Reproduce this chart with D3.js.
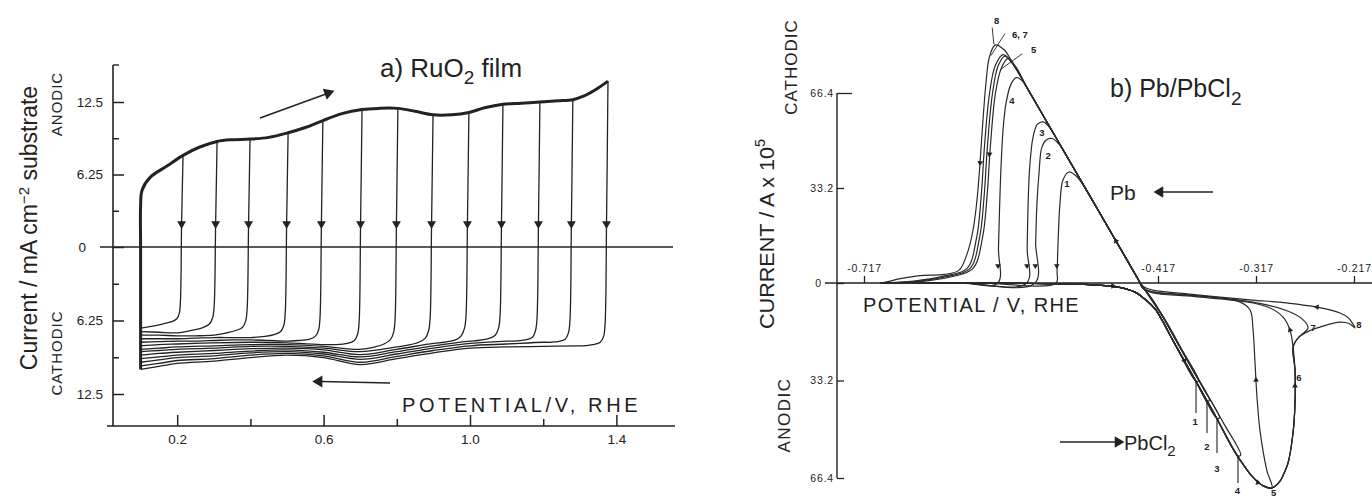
<!DOCTYPE html>
<html>
<head>
<meta charset="utf-8">
<script src="https://cdn.jsdelivr.net/npm/d3@7"></script>
<style>
  body { margin: 0; background: #fff; }
  text { font-family: "Liberation Sans", Arial, sans-serif; fill: #222; }
</style>
</head>
<body>
<script>
// ---------- data: panel a) RuO2 film ----------
var xTicksA = [0.2, 0.6, 1.0, 1.4];
var xMinorA = [0.4, 0.8, 1.2];
var yTicksA = [12.5, 6.25, 0, -6.25, -12.5];
var yMinorA = [9.375, 3.125, -3.125, -9.375];

// switching potentials of the 13 sweeps
var reversalE = [0.216, 0.309, 0.399, 0.503, 0.598, 0.705, 0.803, 0.899, 0.997, 1.090, 1.191, 1.281, 1.377];

// outer anodic sweep (potential V, current mA cm-2, anodic positive)
var anodicSweep = [[0.1,-10.4],[0.1,-5],[0.1,0],[0.1,3.5],[0.104,4.9],[0.126,6.0],[0.173,7.0],[0.216,7.9],
  [0.26,8.6],[0.309,9.1],[0.35,9.25],[0.399,9.3],[0.45,9.45],[0.503,9.85],[0.55,10.3],[0.598,10.9],
  [0.65,11.5],[0.705,11.85],[0.75,11.95],[0.803,11.95],[0.85,11.7],[0.899,11.4],[0.95,11.4],[0.997,11.6],
  [1.04,12.0],[1.09,12.3],[1.14,12.4],[1.191,12.5],[1.24,12.6],[1.281,12.7],[1.31,13.0],[1.345,13.6],[1.377,14.3]];

// cathodic return sweeps, one per switching potential
var cathodicSweeps = [
  [[0.216,7.9],[0.212,2],[0.209,-4.5],[0.206,-5.6],[0.199,-6.1],[0.185,-6.35],[0.16,-6.55],[0.13,-6.75],[0.1,-6.9]],
  [[0.309,9.1],[0.305,2],[0.301,-5],[0.297,-6.0],[0.288,-6.55],[0.27,-6.85],[0.245,-7.05],[0.2,-7.3],[0.15,-7.25],[0.1,-7.2]],
  [[0.399,9.3],[0.395,2],[0.391,-5.3],[0.387,-6.3],[0.378,-6.85],[0.36,-7.1],[0.335,-7.3],[0.3,-7.5],[0.25,-7.55],[0.2,-7.55],[0.15,-7.5],[0.1,-7.5]],
  [[0.503,9.85],[0.499,2],[0.495,-5.7],[0.491,-6.7],[0.482,-7.2],[0.465,-7.45],[0.44,-7.6],[0.4,-7.7],[0.35,-7.7],[0.3,-7.7],[0.25,-7.75],[0.2,-7.8],[0.15,-7.8],[0.1,-7.8]],
  [[0.598,10.9],[0.594,2],[0.590,-6.1],[0.586,-7.1],[0.577,-7.6],[0.56,-7.85],[0.53,-7.95],[0.5,-8.0],[0.45,-7.95],[0.4,-7.9],[0.35,-7.9],[0.3,-7.95],[0.25,-8.0],[0.2,-8.0],[0.15,-8.05],[0.1,-8.1]],
  [[0.705,11.85],[0.701,2],[0.697,-6.4],[0.693,-7.4],[0.684,-7.95],[0.665,-8.2],[0.63,-8.3],[0.6,-8.3],[0.5,-8.15],[0.4,-8.1],[0.3,-8.15],[0.2,-8.25],[0.15,-8.3],[0.1,-8.4]],
  [[0.803,11.95],[0.799,2],[0.795,-6.3],[0.791,-7.3],[0.782,-7.9],[0.765,-8.25],[0.74,-8.5],[0.7,-8.7],[0.6,-8.45],[0.5,-8.3],[0.4,-8.3],[0.3,-8.4],[0.2,-8.5],[0.15,-8.6],[0.1,-8.7]],
  [[0.899,11.4],[0.895,2],[0.891,-6.1],[0.887,-7.1],[0.878,-7.75],[0.86,-8.1],[0.83,-8.35],[0.8,-8.5],[0.7,-8.9],[0.6,-8.6],[0.5,-8.45],[0.4,-8.45],[0.3,-8.6],[0.2,-8.7],[0.15,-8.8],[0.1,-8.9]],
  [[0.997,11.6],[0.993,2],[0.989,-5.9],[0.985,-6.9],[0.976,-7.55],[0.96,-7.9],[0.93,-8.1],[0.9,-8.2],[0.8,-8.7],[0.7,-9.15],[0.6,-8.75],[0.5,-8.6],[0.4,-8.65],[0.3,-8.8],[0.2,-8.95],[0.15,-9.05],[0.1,-9.2]],
  [[1.09,12.3],[1.086,2],[1.082,-5.9],[1.078,-6.9],[1.069,-7.5],[1.05,-7.8],[1.02,-7.95],[1.0,-8.0],[0.9,-8.4],[0.8,-8.9],[0.7,-9.35],[0.6,-8.95],[0.5,-8.75],[0.4,-8.85],[0.3,-9.05],[0.2,-9.2],[0.15,-9.35],[0.1,-9.5]],
  [[1.191,12.5],[1.187,2],[1.183,-6.1],[1.179,-7.1],[1.17,-7.7],[1.15,-7.9],[1.12,-8.0],[1.1,-8.0],[1.0,-8.2],[0.9,-8.6],[0.8,-9.1],[0.7,-9.55],[0.6,-9.1],[0.5,-8.9],[0.4,-9.0],[0.3,-9.25],[0.2,-9.4],[0.15,-9.6],[0.1,-9.8]],
  [[1.281,12.7],[1.277,2],[1.273,-6.3],[1.269,-7.3],[1.26,-7.85],[1.24,-8.05],[1.22,-8.1],[1.2,-8.1],[1.1,-8.25],[1.0,-8.4],[0.9,-8.8],[0.8,-9.3],[0.7,-9.8],[0.6,-9.25],[0.5,-9.05],[0.4,-9.2],[0.3,-9.5],[0.2,-9.65],[0.15,-9.9],[0.1,-10.1]],
  [[1.377,14.3],[1.373,2],[1.369,-6.6],[1.365,-7.6],[1.356,-8.1],[1.335,-8.3],[1.31,-8.4],[1.3,-8.4],[1.2,-8.45],[1.1,-8.5],[1.0,-8.6],[0.9,-9.0],[0.8,-9.5],[0.7,-10.0],[0.6,-9.4],[0.5,-9.2],[0.4,-9.4],[0.3,-9.7],[0.2,-9.9],[0.15,-10.15],[0.1,-10.4]]
];

// ---------- data: panel b) Pb/PbCl2 ----------
var xTicksB = [-0.717, -0.417, -0.317, -0.217];
var xTickLabelsB = ["-0.717", "-0.417", "-0.317", "-0.217"];
var yTicksB = [66.4, 33.2, 0, -33.2, -66.4];

// cycles 1-8 (potential V, current A x 1e5, cathodic positive)
var cycles = [
  [[-0.70,0],[-0.62,0],[-0.53,-0.2],[-0.48,-0.7],[-0.455,-1.6],[-0.44,-3.2],[-0.43,-5.6],[-0.42,-8.85],[-0.40,-20.65],[-0.3782,-33.5],
   [-0.3755,-33.3],[-0.396,-21],[-0.416,-9.2],[-0.435,0],[-0.45,8.85],[-0.47,20.65],[-0.49,32.45],[-0.500,37.2],[-0.508,38.8],
   [-0.514,36],[-0.517,28],[-0.519,14],[-0.520,4],[-0.521,0],[-0.60,0],[-0.70,0]],
  [[-0.70,0],[-0.62,0],[-0.53,-0.2],[-0.48,-0.7],[-0.455,-1.6],[-0.44,-3.2],[-0.43,-5.6],[-0.42,-8.85],[-0.40,-20.65],[-0.38,-32.45],[-0.367,-40.1],
   [-0.3645,-39.9],[-0.381,-30],[-0.401,-18.2],[-0.421,-6.4],[-0.435,0],[-0.45,8.85],[-0.47,20.65],[-0.49,32.45],[-0.51,44.25],[-0.518,48.5],
   [-0.525,50.5],[-0.531,50.0],[-0.5355,47.5],[-0.5385,38],[-0.5405,28],[-0.5418,14],[-0.5425,0],[-0.62,0],[-0.70,0]],
  [[-0.70,0],[-0.62,0],[-0.53,-0.2],[-0.48,-0.7],[-0.455,-1.6],[-0.44,-3.2],[-0.43,-5.6],[-0.42,-8.85],[-0.40,-20.65],[-0.38,-32.45],[-0.3568,-46.1],
   [-0.3543,-45.9],[-0.371,-35.8],[-0.391,-24],[-0.411,-12.2],[-0.435,0],[-0.45,8.85],[-0.47,20.65],[-0.49,32.45],[-0.51,44.25],[-0.52,50.15],
   [-0.528,54.5],[-0.534,56.3],[-0.540,55.5],[-0.5445,51],[-0.548,40],[-0.5495,28],[-0.5505,12],[-0.551,0],[-0.62,0],[-0.70,0]],
  [[-0.70,0],[-0.62,0],[-0.53,-0.2],[-0.48,-0.7],[-0.455,-1.6],[-0.44,-3.2],[-0.43,-5.6],[-0.42,-8.85],[-0.40,-20.65],[-0.38,-32.45],[-0.36,-44.25],[-0.3354,-58.8],
   [-0.3325,-58.6],[-0.351,-47.2],[-0.371,-35.4],[-0.391,-23.6],[-0.411,-11.8],[-0.435,0],[-0.45,8.85],[-0.47,20.65],[-0.49,32.45],[-0.51,44.25],[-0.53,56.05],
   [-0.55,67.85],[-0.556,70.8],[-0.5615,71.8],[-0.567,69.5],[-0.572,63],[-0.575,54],[-0.577,42],[-0.5785,28],[-0.5798,12],[-0.5805,0],[-0.62,0],[-0.70,0]],
  [[-0.70,0],[-0.62,0],[-0.53,-0.2],[-0.48,-0.7],[-0.455,-1.6],[-0.44,-3.2],[-0.43,-5.6],[-0.42,-8.85],[-0.40,-20.65],[-0.38,-32.45],[-0.36,-44.25],[-0.3384,-57.6],
   [-0.328,-62.8],[-0.32,-66.2],[-0.31,-69.0],[-0.3007,-69.8],[-0.306,-63.7],[-0.313,-50],[-0.316,-38.8],[-0.318,-27.2],[-0.320,-16],[-0.323,-9.2],
   [-0.333,-6.5],[-0.3537,-5.1],[-0.3874,-4.1],[-0.4221,-3.1],[-0.432,-1.8],[-0.438,1.8],[-0.45,8.85],[-0.47,20.65],[-0.49,32.45],[-0.51,44.25],[-0.53,56.05],
   [-0.55,67.85],[-0.562,75.5],[-0.570,78.5],[-0.577,75],[-0.583,66],[-0.588,48],[-0.5915,30],[-0.596,16],[-0.606,5],[-0.63,2],[-0.66,0.5],[-0.70,0]],
  [[-0.70,0],[-0.62,0],[-0.53,-0.2],[-0.48,-0.7],[-0.455,-1.6],[-0.44,-3.2],[-0.43,-5.6],[-0.42,-8.85],[-0.40,-20.65],[-0.38,-32.45],[-0.36,-44.25],[-0.3384,-57.6],
   [-0.328,-62.8],[-0.32,-66.2],[-0.31,-69.0],[-0.3007,-69.8],[-0.2925,-67.5],[-0.2874,-64],[-0.2843,-61.3],[-0.2792,-51],[-0.2772,-40.9],[-0.2772,-29.6],
   [-0.2792,-21.8],[-0.2823,-16],[-0.2894,-11.6],[-0.3027,-8.5],[-0.320,-6.8],[-0.3537,-5.4],[-0.3874,-4.4],[-0.4221,-3.4],[-0.432,-2.0],[-0.438,1.8],
   [-0.45,8.85],[-0.47,20.65],[-0.49,32.45],[-0.51,44.25],[-0.53,56.05],[-0.55,67.85],[-0.564,76],[-0.573,79.3],[-0.580,76],[-0.586,66],[-0.591,48],
   [-0.5945,30],[-0.599,16],[-0.609,5],[-0.633,2.2],[-0.663,0.6],[-0.70,0]],
  [[-0.70,0],[-0.62,0],[-0.53,-0.2],[-0.48,-0.7],[-0.455,-1.6],[-0.44,-3.2],[-0.43,-5.6],[-0.42,-8.85],[-0.40,-20.65],[-0.38,-32.45],[-0.36,-44.25],[-0.3384,-57.6],
   [-0.328,-62.8],[-0.32,-66.2],[-0.31,-69.0],[-0.3007,-69.8],[-0.2925,-67.5],[-0.2874,-64],[-0.2843,-61.3],[-0.2792,-51],[-0.2772,-40.9],[-0.2772,-29.6],
   [-0.2792,-21.8],[-0.2735,-18.5],[-0.2639,-15.3],[-0.2700,-12.2],[-0.2874,-9.2],[-0.320,-6.5],[-0.3537,-5.1],[-0.3874,-4.0],[-0.4221,-3.0],[-0.432,-1.9],
   [-0.438,1.8],[-0.45,8.85],[-0.47,20.65],[-0.49,32.45],[-0.51,44.25],[-0.53,56.05],[-0.55,67.85],[-0.565,76.5],[-0.575,79.8],[-0.583,76],[-0.589,66],
   [-0.594,48],[-0.5975,30],[-0.602,16],[-0.612,5],[-0.636,2.4],[-0.666,0.7],[-0.70,0]],
  [[-0.70,0],[-0.62,0],[-0.53,-0.2],[-0.48,-0.7],[-0.455,-1.6],[-0.44,-3.2],[-0.43,-5.6],[-0.42,-8.85],[-0.40,-20.65],[-0.38,-32.45],[-0.36,-44.25],[-0.3384,-57.6],
   [-0.328,-62.8],[-0.32,-66.2],[-0.31,-69.0],[-0.3007,-69.8],[-0.2925,-67.5],[-0.2874,-64],[-0.2843,-61.3],[-0.2792,-51],[-0.2772,-40.9],[-0.2772,-29.6],
   [-0.2792,-21.8],[-0.2735,-18.5],[-0.262,-16.2],[-0.2517,-15.0],[-0.2313,-13.3],[-0.222,-13.8],[-0.216,-15.3],[-0.2230,-11.8],[-0.2313,-10.2],
   [-0.2548,-8.2],[-0.2854,-6.8],[-0.320,-5.8],[-0.3537,-4.8],[-0.3874,-3.7],[-0.4221,-2.4],[-0.432,-1.2],[-0.438,1.8],[-0.45,8.85],[-0.47,20.65],
   [-0.49,32.45],[-0.51,44.25],[-0.53,56.05],[-0.55,67.85],[-0.56,73.75],[-0.566,77.3],[-0.574,81.5],[-0.583,83.2],[-0.589,79],[-0.5925,70],[-0.596,55],
   [-0.599,40],[-0.602,28],[-0.606,18],[-0.612,10],[-0.62,4.5],[-0.635,3.0],[-0.66,2.6],[-0.68,1.5],[-0.695,0.3],[-0.70,0]]
];

// anodic switching marks of cycles 1-4: [E, top, bottom]
var switchMarks = [[-0.3782,-33.5,-44.3],[-0.367,-40.1,-51.1],[-0.3568,-46.1,-57.9],[-0.3354,-58.8,-68.1]];

// cycle number labels: [text, E, I]
var cycleLabels = [["1",-0.5099,33.5],["2",-0.5292,43.2],["3",-0.5354,51.3],["4",-0.566,62.5],
  ["1",-0.379,-48.5],["2",-0.367,-56.8],["3",-0.357,-64.3],["4",-0.336,-71.7],["5",-0.299,-72.4],
  ["6",-0.2732,-33.5],["7",-0.2588,-16.5],["8",-0.2119,-15.3]];

// labels with leader lines at top: [text, labelE, labelI, fromE, fromI, toE, toI]
var leaderLabels = [["8",-0.5843,90.5,-0.5862,89.3,-0.5845,83.5],
  ["6, 7",-0.566,85.6,-0.5731,87.2,-0.5874,79.5],
  ["5",-0.5466,80.5,-0.5556,80.1,-0.5781,74.5]];

// small direction arrows on the curves: [E, I, angle in degrees]
var flowArrows = [[-0.5203,6,90],[-0.5422,6,90],[-0.5507,6,90],[-0.5803,6,90],[-0.589,45,95],[-0.5985,42,95],
  [-0.463,-1.0,0],[-0.39,-26.5,60],[-0.315,-68,20],[-0.317,-33,-92],[-0.2772,-35,-90],[-0.2823,-16,-110],
  [-0.2548,-8.2,185],[-0.46,14.75,-120]];

// ---------- drawing ----------
var width = 1372, height = 498;
var ink = "#222";

var svg = d3.select("body").append("svg")
    .attr("width", width)
    .attr("height", height);

function arrowHead(g, x, y, angle, size) {
  g.append("path")
    .attr("d", d3.symbol().type(d3.symbolTriangle).size(size)())
    .attr("transform", "translate(" + x + "," + y + ") rotate(" + (angle + 90) + ")")
    .attr("fill", ink);
}

// ===== panel a =====
var xA = d3.scaleLinear().domain([0, 1.4]).range([104, 616.4]);
var yA = d3.scaleLinear().domain([-12.5, 0, 12.5]).range([394, 247, 102]);
var gA = svg.append("g");

var lineA = d3.line()
    .x(function(d) { return xA(d[0]); })
    .y(function(d) { return yA(d[1]); })
    .curve(d3.curveCatmullRom.alpha(0.5));

// axis lines
gA.append("line").attr("x1", 113).attr("x2", 113).attr("y1", 65).attr("y2", 426)
  .attr("stroke", ink).attr("stroke-width", 1.6);
gA.append("line").attr("x1", 113).attr("x2", 119).attr("y1", 65).attr("y2", 65)
  .attr("stroke", ink).attr("stroke-width", 1.4);
gA.append("line").attr("x1", 107).attr("x2", 675).attr("y1", 426).attr("y2", 426)
  .attr("stroke", ink).attr("stroke-width", 1.6);
gA.append("line").attr("x1", 100).attr("x2", 673).attr("y1", yA(0)).attr("y2", yA(0))
  .attr("stroke", ink).attr("stroke-width", 1.3);

// x axis
gA.append("g").attr("transform", "translate(0,426)")
  .call(d3.axisBottom(xA).tickValues(xMinorA).tickSize(-7).tickFormat(""));
gA.append("g").attr("transform", "translate(0,426)")
  .call(d3.axisBottom(xA).tickValues(xTicksA).tickSize(-11).tickPadding(8).tickFormat(d3.format(".1f")));

// y axis
gA.append("g").attr("transform", "translate(113,0)")
  .call(d3.axisLeft(yA).tickValues(yMinorA).tickSize(-6).tickFormat(""));
var yAxA = gA.append("g").attr("transform", "translate(113,0)")
  .call(d3.axisLeft(yA).tickValues(yTicksA).tickSize(-11).tickPadding(10)
    .tickFormat(function(d) { return Math.abs(d); }));
yAxA.selectAll(".tick text").filter(function(d) { return d === 0; }).attr("x", -27);

gA.selectAll(".domain").remove();
gA.selectAll(".tick line").attr("stroke", ink).attr("stroke-width", 1.5);
gA.selectAll(".tick text").attr("font-size", 13.5).attr("fill", ink)
  .style("font-family", "'Liberation Sans', Arial, sans-serif");

// curves
gA.selectAll(".cath").data(cathodicSweeps).enter().append("path")
  .attr("class", "cath")
  .attr("d", lineA)
  .attr("fill", "none").attr("stroke", ink).attr("stroke-width", 1.3);

gA.append("path").datum(anodicSweep)
  .attr("d", lineA)
  .attr("fill", "none").attr("stroke", ink).attr("stroke-width", 3).attr("stroke-linejoin", "round");

cathodicSweeps.forEach(function(c) {
  arrowHead(gA, xA(c[1][0]), yA(c[1][1]), 90, 34);
});

// sweep direction arrows
gA.append("line").attr("x1", 260).attr("y1", 118).attr("x2", 326).attr("y2", 94)
  .attr("stroke", ink).attr("stroke-width", 1.4);
arrowHead(gA, 328, 93, -20, 60);
gA.append("line").attr("x1", 390).attr("y1", 383).attr("x2", 321).attr("y2", 381.5)
  .attr("stroke", ink).attr("stroke-width", 1.4);
arrowHead(gA, 319, 381.5, 180, 60);

// texts
var titleA = gA.append("text").attr("x", 380).attr("y", 77).attr("font-size", 26).attr("fill", "#444");
titleA.append("tspan").text("a) RuO");
titleA.append("tspan").attr("dy", 7).attr("font-size", 19).text("2");
titleA.append("tspan").attr("dy", -7).text(" film");

gA.append("text").attr("x", 402).attr("y", 412).attr("font-size", 20)
  .attr("letter-spacing", 3.6).text("POTENTIAL/V, RHE");

gA.append("text").attr("transform", "translate(62,104) rotate(-90)")
  .attr("text-anchor", "middle").attr("font-size", 15).attr("letter-spacing", 1).text("ANODIC");
gA.append("text").attr("transform", "translate(62,353) rotate(-90)")
  .attr("text-anchor", "middle").attr("font-size", 15).attr("letter-spacing", 1).text("CATHODIC");

var yTitleA = gA.append("text").attr("transform", "translate(37,228) rotate(-90)")
  .attr("text-anchor", "middle").attr("font-size", 23);
yTitleA.append("tspan").text("Current / mA cm");
yTitleA.append("tspan").attr("dy", -8).attr("font-size", 15).text("\u22122");
yTitleA.append("tspan").attr("dy", 8).text(" substrate");

// ===== panel b =====
var xB = d3.scaleLinear().domain([-0.717, -0.217]).range([864, 1354]);
var yB = d3.scaleLinear().domain([-66.4, 0, 66.4]).range([478, 283, 93]);
var gB = svg.append("g");

var lineB = d3.line()
    .x(function(d) { return xB(d[0]); })
    .y(function(d) { return yB(d[1]); })
    .curve(d3.curveCatmullRom.alpha(0.5));

gB.append("line").attr("x1", 837).attr("x2", 837).attr("y1", 93).attr("y2", 478)
  .attr("stroke", ink).attr("stroke-width", 1.4);
gB.append("line").attr("x1", 825).attr("x2", 1372).attr("y1", 283).attr("y2", 283)
  .attr("stroke", ink).attr("stroke-width", 1.4);

gB.append("g").attr("transform", "translate(0,283)")
  .call(d3.axisTop(xB).tickValues(xTicksB).tickSize(7).tickPadding(4)
    .tickFormat(function(d, i) { return xTickLabelsB[i]; }));

var yAxB = gB.append("g").attr("transform", "translate(837,0)")
  .call(d3.axisLeft(yB).tickValues(yTicksB).tickSize(-7).tickPadding(3)
    .tickFormat(function(d) { return Math.abs(d); }));
yAxB.selectAll(".tick").filter(function(d) { return d === 66.4; }).select("line").attr("x2", 15);
yAxB.selectAll(".tick").filter(function(d) { return d === 0; }).select("text").attr("x", -15);

gB.selectAll(".domain").remove();
gB.selectAll(".tick line").attr("stroke", ink).attr("stroke-width", 1.3);
gB.selectAll(".tick text").attr("font-size", 10.5).attr("fill", ink).attr("letter-spacing", 0.8)
  .style("font-family", "'Liberation Sans', Arial, sans-serif");

gB.selectAll(".cyc").data(cycles).enter().append("path")
  .attr("class", "cyc")
  .attr("d", lineB)
  .attr("fill", "none").attr("stroke", "#2a2a2a").attr("stroke-width", 1.2);

switchMarks.forEach(function(m) {
  gB.append("line").attr("x1", xB(m[0])).attr("x2", xB(m[0]))
    .attr("y1", yB(m[1])).attr("y2", yB(m[2]))
    .attr("stroke", ink).attr("stroke-width", 1.1);
});

gB.selectAll(".clab").data(cycleLabels).enter().append("text")
  .attr("class", "clab")
  .attr("x", function(d) { return xB(d[1]); })
  .attr("y", function(d) { return yB(d[2]); })
  .attr("text-anchor", "middle").attr("font-size", 9.5).attr("font-weight", "bold")
  .text(function(d) { return d[0]; });

leaderLabels.forEach(function(l) {
  gB.append("text").attr("x", xB(l[1])).attr("y", yB(l[2]))
    .attr("font-size", 9.5).attr("font-weight", "bold").text(l[0]);
  gB.append("line").attr("x1", xB(l[3])).attr("y1", yB(l[4]))
    .attr("x2", xB(l[5])).attr("y2", yB(l[6]))
    .attr("stroke", ink).attr("stroke-width", 0.9);
});

flowArrows.forEach(function(a) {
  arrowHead(gB, xB(a[0]), yB(a[1]), a[2], 14);
});

// annotations
var titleB = gB.append("text").attr("x", 1110).attr("y", 97).attr("font-size", 25).attr("fill", "#444");
titleB.append("tspan").text("b)  Pb/PbCl");
titleB.append("tspan").attr("dy", 8).attr("font-size", 19).text("2");

gB.append("text").attr("x", 1110).attr("y", 200).attr("font-size", 21).attr("fill", "#333").text("Pb");
gB.append("line").attr("x1", 1213).attr("y1", 192).attr("x2", 1162).attr("y2", 192)
  .attr("stroke", ink).attr("stroke-width", 1.3);
arrowHead(gB, 1160, 192, 180, 55);

gB.append("line").attr("x1", 1060).attr("y1", 442).attr("x2", 1116).attr("y2", 442)
  .attr("stroke", ink).attr("stroke-width", 1.3);
arrowHead(gB, 1118, 442, 0, 55);
var pbcl = gB.append("text").attr("x", 1124).attr("y", 450).attr("font-size", 20).attr("fill", "#333");
pbcl.append("tspan").text("PbCl");
pbcl.append("tspan").attr("dy", 6).attr("font-size", 15).text("2");

gB.append("text").attr("x", 863).attr("y", 312).attr("font-size", 20).attr("letter-spacing", 1.4)
  .text("POTENTIAL / V, RHE");

gB.append("text").attr("transform", "translate(797,67) rotate(-90)")
  .attr("text-anchor", "middle").attr("font-size", 17).attr("letter-spacing", 1).text("CATHODIC");
gB.append("text").attr("transform", "translate(790,415) rotate(-90)")
  .attr("text-anchor", "middle").attr("font-size", 17).attr("letter-spacing", 1.5).text("ANODIC");

var yTitleB = gB.append("text").attr("transform", "translate(774,234) rotate(-90)")
  .attr("text-anchor", "middle").attr("font-size", 21)
  .attr("textLength", 190).attr("lengthAdjust", "spacingAndGlyphs");
yTitleB.append("tspan").text("CURRENT / A x 10");
yTitleB.append("tspan").attr("dy", -9).attr("font-size", 14).text("5");
</script>
</body>
</html>
